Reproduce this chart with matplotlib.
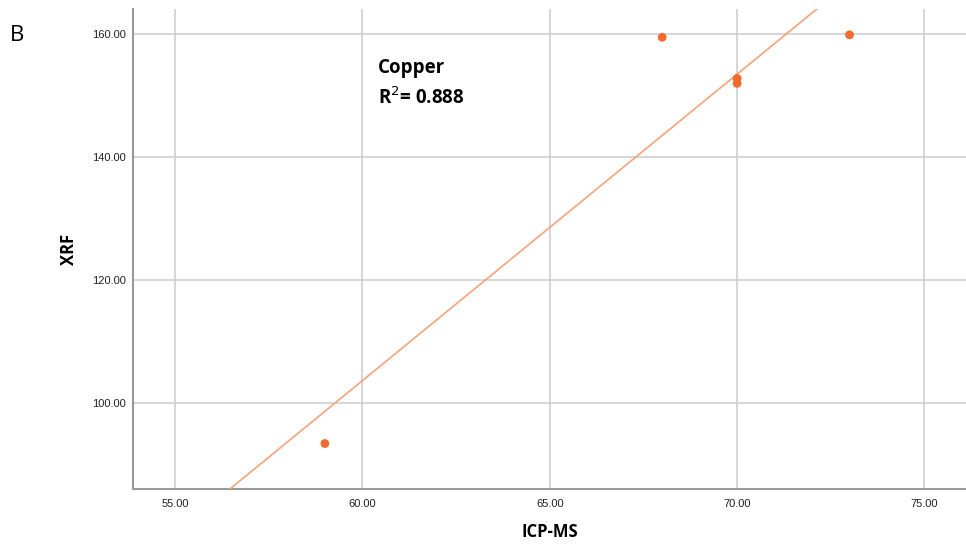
import numpy as np
import matplotlib
matplotlib.use("Agg")
from matplotlib import pyplot as plt

# data
icp_ms = [59.0, 68.0, 70.0, 70.0, 73.0]
xrf = [93.4, 159.5, 152.8, 152.0, 159.9]
x_ticks = [55, 60, 65, 70, 75]
y_ticks = [100, 120, 140, 160]

# linear fit
slope, intercept = np.polyfit(icp_ms, xrf, 1)
r2 = np.corrcoef(icp_ms, xrf)[0, 1] ** 2

fig = plt.figure(figsize=(9.66, 5.49), dpi=100)
ax = fig.add_axes([0.1377, 0.1093, 0.862, 0.8743])

xlim = (53.88, 76.1)
ax.set_xlim(xlim)
ax.set_ylim(86.0, 164.1)

xs = np.array(xlim)
ax.plot(xs, slope * xs + intercept, color='#F5A37A', lw=1.2, zorder=3)
ax.scatter(icp_ms, xrf, s=40, color='#F26A2E', edgecolors='none', zorder=4)

ax.set_xticks(x_ticks)
ax.set_yticks(y_ticks)
ax.set_xticklabels(['%.2f' % v for v in x_ticks])
ax.set_yticklabels(['%.2f' % v for v in y_ticks])
ax.tick_params(axis='x', length=0, labelsize=8, colors='#222222', pad=7)
ax.tick_params(axis='y', length=0, labelsize=8, colors='#222222', pad=5)
for lbl in ax.get_xticklabels() + ax.get_yticklabels():
    lbl.set_family('Liberation Sans')

ax.grid(True, color='#cccccc', lw=1.1)
ax.set_axisbelow(True)
for s in ['top', 'right']:
    ax.spines[s].set_visible(False)
for s in ['left', 'bottom']:
    ax.spines[s].set_color('#999999')
    ax.spines[s].set_linewidth(1.5)

ax.set_xlabel('ICP-MS', fontsize=12, fontweight='bold', family='Open Sans', labelpad=10)
ax.set_ylabel('XRF', fontsize=12, fontweight='bold', family='Open Sans', labelpad=10)

ax.text(0.294, 0.877, 'Copper', transform=ax.transAxes, fontsize=13.5,
        fontweight='bold', family='Open Sans', va='center')
ax.text(0.294, 0.815, 'R$^2$= %.3f' % r2, transform=ax.transAxes, fontsize=13.5,
        fontweight='bold', family='Open Sans', va='center')

fig.text(0.01, 0.935, 'B', fontsize=16, family='Open Sans', va='center')

plt.savefig('out.png', dpi=100)
